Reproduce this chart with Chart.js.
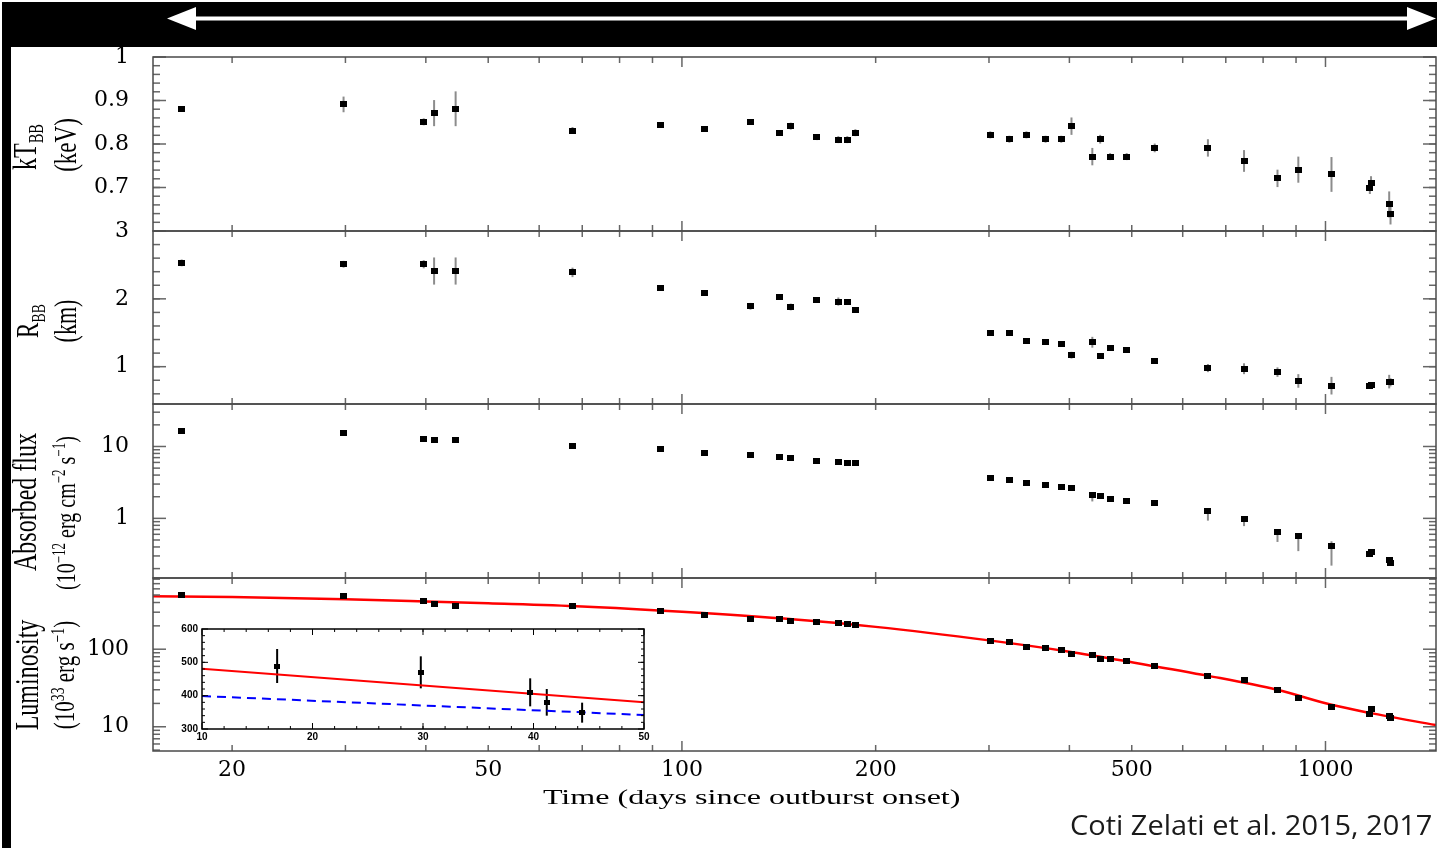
<!DOCTYPE html>
<html>
<head>
<meta charset="utf-8">
<script src="https://cdn.jsdelivr.net/npm/chart.js@4.4.1/dist/chart.umd.min.js"></script>
<style>
  html, body { margin: 0; padding: 0; width: 1437px; height: 850px; overflow: hidden; background: #fff; color: #000; }
  #topbar { position: absolute; left: 2px; top: 2px; width: 1435px; height: 45px; background: #000; }
  #leftbar { position: absolute; left: 2px; top: 2px; width: 9px; height: 846px; background: #000; }
  canvas { position: absolute; }
  #arrow { position: absolute; left: 0; top: 0; }
  .txt { position: absolute; white-space: nowrap; font-family: "Liberation Serif", "Times New Roman", serif; color: #000; line-height: 1; }
  .txt sub { font-size: 0.6em; vertical-align: -0.35em; }
  .txt sup { font-size: 0.65em; vertical-align: 0.55em; }
  #credit { font-family: "Open Sans", sans-serif; color: #1a1a1a; }
</style>
</head>
<body>
<div id="topbar"></div>
<div id="leftbar"></div>
<svg id="arrow" width="1437" height="47">
  <line x1="190" y1="18.5" x2="1412" y2="18.5" stroke="#fff" stroke-width="4"/>
  <polygon points="167,18.5 196,7 196,30" fill="#fff"/>
  <polygon points="1436,18.5 1407,7 1407,30" fill="#fff"/>
</svg>
<canvas id="p1" width="1441" height="214" style="left:0;top:37px"></canvas>
<canvas id="p2" width="1441" height="213" style="left:0;top:211px"></canvas>
<canvas id="p3" width="1441" height="214" style="left:0;top:384px"></canvas>
<canvas id="p4" width="1441" height="292" style="left:0;top:558px"></canvas>
<canvas id="inset" width="490" height="132" style="left:170px;top:617px"></canvas>

<div class="txt rot" data-cx="27" data-cy="147" style="font-size:24px">kT<sub>BB</sub></div>
<div class="txt rot" data-cx="65" data-cy="145" style="font-size:23px">(keV)</div>
<div class="txt rot" data-cx="30" data-cy="321" style="font-size:23px">R<sub>BB</sub></div>
<div class="txt rot" data-cx="66" data-cy="321" style="font-size:22px">(km)</div>
<div class="txt rot" data-cx="25" data-cy="502" style="font-size:24px">Absorbed flux</div>
<div class="txt rot" data-cx="64" data-cy="513" style="font-size:20px">(10<sup>&minus;12</sup> erg cm<sup>&minus;2</sup> s<sup>&minus;1</sup>)</div>
<div class="txt rot" data-cx="27" data-cy="675" style="font-size:24px">Luminosity</div>
<div class="txt rot" data-cx="64" data-cy="675" style="font-size:21px">(10<sup>33</sup> erg s<sup>&minus;1</sup>)</div>
<div class="txt" id="xtitle" style="font-size:21px">Time (days since outburst onset)</div>
<div class="txt" id="credit" style="font-size:28px">Coti Zelati et al. 2015, 2017</div>

<script>
// values
const days = [16.7, 29.8, 39.7, 41.2, 44.5, 67.6, 92.5, 108.3, 127.8, 141.6, 147.6, 162.1, 175.0, 180.7, 186.0,
  301.4, 322.7, 343.0, 367.3, 388.5, 403.0, 434.2, 446.6, 462.7, 491.0, 542.8, 656.6, 747.2, 842.2, 907.4,
  1021.7, 1172, 1177, 1256, 1262];

const kT = [0.880, 0.891, 0.851, 0.871, 0.881, 0.831, 0.843, 0.835, 0.851, 0.825, 0.841, 0.815, 0.810, 0.810, 0.826,
  0.821, 0.811, 0.821, 0.811, 0.811, 0.841, 0.771, 0.811, 0.771, 0.771, 0.791, 0.791, 0.761, 0.721, 0.741,
  0.730, 0.700, 0.711, 0.661, 0.640];
const kTErr = [0.006, 0.018, 0.008, 0.03, 0.04, 0.008, 0.005, 0.006, 0.006, 0.006, 0.008, 0.006, 0.008, 0.008, 0.008,
  0.008, 0.008, 0.008, 0.008, 0.008, 0.02, 0.02, 0.01, 0.008, 0.008, 0.01, 0.02, 0.025, 0.02, 0.03,
  0.04, 0.015, 0.015, 0.03, 0.025];

const radius = [2.53, 2.51, 2.51, 2.41, 2.41, 2.39, 2.16, 2.09, 1.89, 2.03, 1.88, 1.98, 1.96, 1.95, 1.83,
  1.49, 1.50, 1.38, 1.37, 1.34, 1.17, 1.36, 1.16, 1.27, 1.24, 1.09, 0.98, 0.97, 0.92, 0.79,
  0.72, 0.71, 0.73, 0.78, 0.77];
const radiusErr = [0.05, 0.05, 0.06, 0.2, 0.2, 0.07, 0.03, 0.03, 0.05, 0.03, 0.05, 0.03, 0.06, 0.04, 0.03,
  0.03, 0.03, 0.03, 0.03, 0.03, 0.05, 0.08, 0.04, 0.03, 0.03, 0.03, 0.06, 0.08, 0.07, 0.1,
  0.13, 0.03, 0.03, 0.1, 0.06];

const flux = [16.2, 15.4, 12.7, 12.4, 12.3, 10.3, 9.2, 8.1, 7.6, 7.2, 7.0, 6.3, 6.0, 5.9, 5.9,
  3.66, 3.43, 3.12, 2.92, 2.71, 2.63, 2.12, 2.05, 1.87, 1.75, 1.64, 1.27, 0.99, 0.65, 0.56,
  0.41, 0.32, 0.34, 0.26, 0.24];
const fluxLow = [15.8, 15.0, 12.4, 12.1, 12.0, 10.0, 8.9, 7.9, 7.4, 7.0, 6.8, 6.1, 5.8, 5.7, 5.7,
  3.55, 3.33, 3.02, 2.83, 2.55, 2.5, 1.72, 1.88, 1.72, 1.62, 1.5, 0.93, 0.78, 0.47, 0.35,
  0.22, 0.30, 0.32, 0.245, 0.225];
const fluxHigh = [16.6, 15.8, 13.0, 12.7, 12.6, 10.6, 9.4, 8.3, 7.8, 7.4, 7.2, 6.5, 6.2, 6.1, 6.1,
  3.75, 3.5, 3.2, 3.0, 2.78, 2.7, 2.2, 2.12, 1.93, 1.8, 1.7, 1.32, 1.03, 0.68, 0.59,
  0.48, 0.33, 0.36, 0.27, 0.25];

const lum = [506, 481, 419, 387, 361, 357, 307, 276, 245, 248, 231, 224, 218, 214, 204,
  129, 123, 108, 104, 97, 86, 84, 74, 74, 69.5, 60, 45, 39.5, 29.4, 23.6,
  18.1, 14.5, 16.7, 13.9, 13.1];

// red model curve, sampled along the drawn line
const modelDays = [15, 20, 30, 40, 50, 70, 100, 150, 200, 300, 400, 500, 658, 841, 1022, 1171, 1485];
const modelLum = [483, 471, 440, 412, 390, 355, 303, 241, 194, 130, 93, 68, 45.3, 30.0, 19.2, 15.1, 10.5];

// inset (linear zoom on the first weeks)
const insetDays = [16.8, 29.8, 39.7, 41.2, 44.4];
const insetLum = [489, 470, 410, 380, 349];
const insetErr = [51, 48, 42, 40, 30];
const insetModelDays = [10, 50];
const insetModelLum = [481, 380];
const insetAltLum = [399, 342];

// ticks
const xTickLabels = [20, 50, 100, 200, 500, 1000];
const xMajorTicks = [100, 1000];
const xMinorTicks = [20, 30, 40, 50, 60, 70, 80, 90, 200, 300, 400, 500, 600, 700, 800, 900];
const kTLabels = [0.7, 0.8, 0.9, 1];
const radiusLabels = [1, 2, 3];
const fluxLabels = [1, 10];
const lumLabels = [10, 100];
const insetXLabels = [10, 20, 30, 40, 50];
const insetYLabels = [300, 400, 500, 600];

// the plot runs a few pixels past the right edge of the window
const xMin = 15.07, xMax = 1485;
const tickFont = { family: "'DejaVu Serif', serif", size: 22 };

function steps(from, to, step) {
  const out = [];
  for (let v = from; v <= to + 1e-9; v += step) out.push(+v.toFixed(4));
  return out;
}
function logMinor(lo, hi) {
  const out = [];
  for (let e = lo; e < hi; e++) for (let m = 2; m <= 9; m++) out.push(m * Math.pow(10, e));
  return out;
}
function marker(w, h) {
  const c = document.createElement('canvas');
  c.width = w; c.height = h;
  const g = c.getContext('2d');
  g.fillStyle = '#000';
  g.fillRect(0, 0, w, h);
  return c;
}

const errorBars = {
  id: 'errorBars',
  beforeDatasetsDraw(chart) {
    const { ctx, chartArea: a, scales: { x, y } } = chart;
    ctx.save();
    ctx.beginPath();
    ctx.rect(a.left, a.top, a.right - a.left, a.bottom - a.top);
    ctx.clip();
    chart.data.datasets.forEach(ds => {
      if (!ds.errLo) return;
      ctx.strokeStyle = ds.errColor;
      ctx.lineWidth = ds.errWidth;
      ds.data.forEach((pt, i) => {
        const px = x.getPixelForValue(pt.x);
        ctx.beginPath();
        ctx.moveTo(px, y.getPixelForValue(ds.errLo[i]));
        ctx.lineTo(px, y.getPixelForValue(ds.errHi[i]));
        ctx.stroke();
      });
    });
    ctx.restore();
  }
};

// box round the plot + inward ticks on all four sides
function frame(t) {
  return {
    id: 'frame',
    beforeDraw(chart) {
      if (!t.fill) return;
      const a = chart.chartArea;
      chart.ctx.save();
      chart.ctx.fillStyle = t.fill;
      chart.ctx.fillRect(a.left, a.top, a.right - a.left, a.bottom - a.top);
      chart.ctx.restore();
    },
    afterDraw(chart) {
      const { ctx, chartArea: a, scales: { x, y } } = chart;
      const inX = v => v >= x.min && v <= x.max;
      const inY = v => v >= y.min && v <= y.max;
      const seg = (x1, y1, x2, y2) => { ctx.beginPath(); ctx.moveTo(x1, y1); ctx.lineTo(x2, y2); ctx.stroke(); };
      ctx.save();
      ctx.strokeStyle = t.tickColor;
      ctx.lineWidth = t.tickWidth;
      const xt = (vals, len) => vals.filter(inX).forEach(v => {
        const p = x.getPixelForValue(v);
        seg(p, a.top, p, a.top + len);
        seg(p, a.bottom, p, a.bottom - len);
      });
      const yt = (vals, len) => vals.filter(inY).forEach(v => {
        const p = y.getPixelForValue(v);
        seg(a.left, p, a.left + len, p);
        seg(a.right, p, a.right - len, p);
      });
      xt(t.xMinor, t.xMinorLen); xt(t.xMajor, t.xMajorLen);
      yt(t.yMinor, t.yMinorLen); yt(t.yMajor, t.yMajorLen);
      ctx.strokeStyle = t.frameColor;
      ctx.lineWidth = t.frameWidth;
      ctx.strokeRect(a.left, a.top, a.right - a.left, a.bottom - a.top);
      ctx.restore();
    }
  };
}

const bigMark = marker(7, 6);

function pointSet(ys, lo, hi) {
  return {
    data: days.map((d, i) => ({ x: d, y: ys[i] })),
    pointStyle: bigMark, pointRadius: 4,
    errLo: lo, errHi: hi, errColor: '#8c8c8c', errWidth: 2
  };
}

function panel(id, o) {
  const showX = !!o.showX;
  return new Chart(document.getElementById(id), {
    type: 'scatter',
    data: { datasets: o.datasets },
    options: {
      responsive: false, animation: false, devicePixelRatio: 1,
      layout: { padding: { top: 20, bottom: showX ? 0 : 20, left: 0, right: 0 } },
      plugins: { legend: { display: false }, tooltip: { enabled: false } },
      scales: {
        x: {
          type: 'logarithmic', min: xMin, max: xMax, bounds: 'data', display: showX,
          grid: { display: false, drawTicks: false }, border: { display: false },
          afterBuildTicks: s => { s.ticks = xTickLabels.map(v => ({ value: v })); },
          afterFit: s => { s.height = showX ? 99 : 0; s.paddingLeft = 0; s.paddingRight = 0; },
          ticks: { font: tickFont, color: '#000', padding: 6, autoSkip: false, maxRotation: 0, callback: v => String(v) }
        },
        y: {
          type: o.yType, min: o.yMin, max: o.yMax, bounds: 'data',
          grid: { display: false, drawTicks: false }, border: { display: false },
          afterBuildTicks: s => { s.ticks = o.yLabels.map(v => ({ value: v })); },
          afterFit: s => { s.width = 153; s.paddingTop = 0; s.paddingBottom = 0; },
          ticks: { font: tickFont, color: '#000', padding: 24, autoSkip: false, callback: v => String(v) }
        }
      }
    },
    plugins: [errorBars, frame({
      xMajor: xMajorTicks, xMinor: xMinorTicks, xMajorLen: 10, xMinorLen: 6,
      yMajor: o.yMajor, yMinor: o.yMinor, yMajorLen: 13, yMinorLen: 7,
      tickColor: '#666', tickWidth: 1.5, frameColor: '#4a4a4a', frameWidth: 1.5
    })]
  });
}

panel('p1', {
  yType: 'linear', yMin: 0.6, yMax: 1.0, yLabels: kTLabels,
  yMajor: steps(0.6, 1.0, 0.1), yMinor: steps(0.62, 0.98, 0.02),
  datasets: [pointSet(kT, kT.map((v, i) => v - kTErr[i]), kT.map((v, i) => v + kTErr[i]))]
});

panel('p2', {
  yType: 'linear', yMin: 0.45, yMax: 3.0, yLabels: radiusLabels,
  yMajor: [1, 2, 3], yMinor: steps(0.6, 2.8, 0.2),
  datasets: [pointSet(radius, radius.map((v, i) => v - radiusErr[i]), radius.map((v, i) => v + radiusErr[i]))]
});

panel('p3', {
  yType: 'logarithmic', yMin: 0.148, yMax: 39, yLabels: fluxLabels,
  yMajor: [1, 10], yMinor: logMinor(-1, 2),
  datasets: [pointSet(flux, fluxLow, fluxHigh)]
});

panel('p4', {
  showX: true,
  yType: 'logarithmic', yMin: 4.87, yMax: 828, yLabels: lumLabels,
  yMajor: [10, 100], yMinor: logMinor(0, 3),
  datasets: [
    { data: days.map((d, i) => ({ x: d, y: lum[i] })), pointStyle: bigMark, pointRadius: 4 },
    { data: modelDays.map((d, i) => ({ x: d, y: modelLum[i] })), showLine: true, pointRadius: 0,
      borderColor: '#ff0000', borderWidth: 2.5, cubicInterpolationMode: 'monotone' }
  ]
});

// inset
const insetFont = { family: "'Liberation Sans', sans-serif", size: 10, weight: 'bold' };
new Chart(document.getElementById('inset'), {
  type: 'scatter',
  data: {
    datasets: [
      { data: insetDays.map((d, i) => ({ x: d, y: insetLum[i] })), pointStyle: marker(6, 5), pointRadius: 3,
        errLo: insetLum.map((v, i) => v - insetErr[i]), errHi: insetLum.map((v, i) => v + insetErr[i]),
        errColor: '#000', errWidth: 2 },
      { data: insetModelDays.map((d, i) => ({ x: d, y: insetModelLum[i] })), showLine: true, pointRadius: 0,
        borderColor: '#ff0000', borderWidth: 2 },
      { data: insetModelDays.map((d, i) => ({ x: d, y: insetAltLum[i] })), showLine: true, pointRadius: 0,
        borderColor: '#0000ff', borderWidth: 2, borderDash: [9, 6] }
    ]
  },
  options: {
    responsive: false, animation: false, devicePixelRatio: 1,
    layout: { padding: { top: 12, right: 16, left: 0, bottom: 0 } },
    plugins: { legend: { display: false }, tooltip: { enabled: false } },
    scales: {
      x: {
        type: 'linear', min: 10, max: 50, bounds: 'data',
        grid: { display: false, drawTicks: false }, border: { display: false },
        afterBuildTicks: s => { s.ticks = insetXLabels.map(v => ({ value: v })); },
        afterFit: s => { s.height = 20; s.paddingLeft = 0; s.paddingRight = 0; },
        ticks: { font: insetFont, color: '#000', padding: 2, autoSkip: false, maxRotation: 0, callback: v => String(v) }
      },
      y: {
        type: 'linear', min: 300, max: 600, bounds: 'data',
        grid: { display: false, drawTicks: false }, border: { display: false },
        afterBuildTicks: s => { s.ticks = insetYLabels.map(v => ({ value: v })); },
        afterFit: s => { s.width = 32; s.paddingTop = 0; s.paddingBottom = 0; },
        ticks: { font: insetFont, color: '#000', padding: 4, autoSkip: false, callback: v => String(v) }
      }
    }
  },
  plugins: [errorBars, frame({
    fill: '#fff',
    xMajor: insetXLabels, xMinor: steps(12, 48, 2), xMajorLen: 6, xMinorLen: 3,
    yMajor: insetYLabels, yMinor: steps(320, 580, 20), yMajorLen: 6, yMinorLen: 3,
    tickColor: '#000', tickWidth: 1, frameColor: '#000', frameWidth: 1.5
  })]
});

// place the HTML titles
document.querySelectorAll('.rot').forEach(el => {
  el.style.left = el.dataset.cx + 'px';
  el.style.top = el.dataset.cy + 'px';
  el.style.transform = 'translate(-50%,-50%) rotate(-90deg) scale(1,1.4)';
});
const xt = document.getElementById('xtitle');
xt.style.left = (751 - xt.offsetWidth / 2) + 'px';
xt.style.top = '787px';
xt.style.transform = 'scaleX(' + (417 / xt.offsetWidth) + ')';
const cr = document.getElementById('credit');
cr.style.left = (1432 - cr.offsetWidth) + 'px';
cr.style.top = '810px';
cr.style.transformOrigin = 'right center';
cr.style.transform = 'scaleX(' + (362 / cr.offsetWidth) + ')';
</script>
</body>
</html>
